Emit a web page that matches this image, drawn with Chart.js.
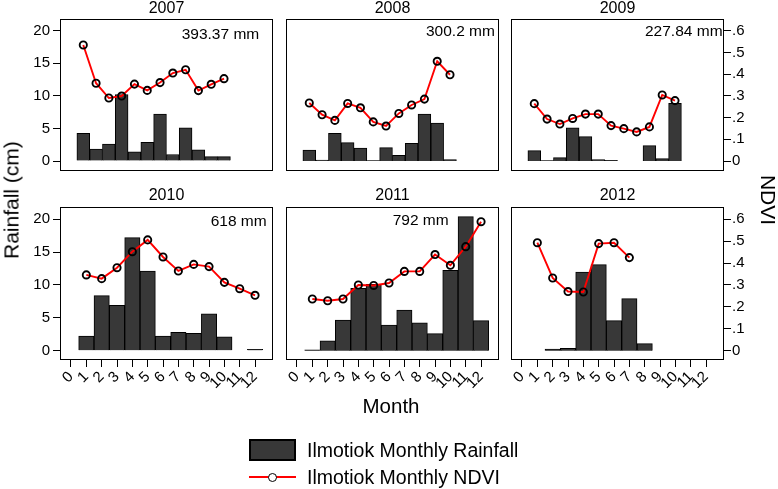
<!DOCTYPE html>
<html>
<head>
<meta charset="utf-8">
<script src="https://cdn.jsdelivr.net/npm/chart.js@4.4.1/dist/chart.umd.min.js"></script>
<style>
html,body{margin:0;padding:0;background:#fff;}
#wrap{position:relative;width:778px;height:489px;overflow:hidden;font-family:"Liberation Sans",Arial,Helvetica,sans-serif;color:#000;}
#wrap canvas{position:absolute;left:0;top:0;}
.t{position:absolute;white-space:nowrap;}
</style>
</head>
<body>
<div id="wrap"></div>
<script>
// ---------------- data ----------------
const years = ['2007', '2008', '2009', '2010', '2011', '2012'];
const totals = ['393.37 mm', '300.2 mm', '227.84 mm', '618 mm', '792 mm', ''];
const months = [1, 2, 3, 4, 5, 6, 7, 8, 9, 10, 11, 12];
const monthTicks = [0, 1, 2, 3, 4, 5, 6, 7, 8, 9, 10, 11, 12];
const rainTicks = [0, 5, 10, 15, 20];
const ndviTicks = [0, 0.1, 0.2, 0.3, 0.4, 0.5, 0.6];
const ndviTickLabels = ['0', '.1', '.2', '.3', '.4', '.5', '.6'];

// rainfall (cm)
const rain2007 = [4.25, 1.84, 2.6, 10.2, 1.4, 2.86, 7.2, 1.0, 5.1, 1.7, 0.66, 0.66];
const rain2008 = [1.69, 0.15, 4.25, 2.81, 2.0, 0.05, 2.05, 0.87, 2.71, 7.21, 5.83, 0.2];
const rain2009 = [1.59, 0.05, 0.51, 5.1, 3.73, 0.2, 0.1, null, null, 2.35, 0.36, 8.85];
const rain2010 = [2.23, 8.38, 6.9, 17.2, 12.13, 2.23, 2.79, 2.64, 5.63, 2.13, null, 0.2];
const rain2011 = [0.15, 1.52, 4.67, 9.49, 10.1, 3.91, 6.19, 4.26, 2.59, 12.23, 20.4, 4.57];
const rain2012 = [null, 0.25, 0.36, 11.98, 13.1, 4.57, 7.92, 1.07, null, null, null, null];

// NDVI
const ndvi2007 = [0.534, 0.358, 0.290, 0.299, 0.354, 0.325, 0.361, 0.405, 0.420, 0.324, 0.353, 0.379];
const ndvi2008 = [0.267, 0.213, 0.187, 0.265, 0.245, 0.180, 0.161, 0.219, 0.258, 0.285, 0.459, 0.397];
const ndvi2009 = [0.264, 0.193, 0.170, 0.196, 0.216, 0.216, 0.163, 0.149, 0.134, 0.157, 0.304, 0.278];
const ndvi2010 = [0.346, 0.329, 0.379, 0.452, 0.506, 0.428, 0.364, 0.394, 0.384, 0.312, 0.283, 0.253];
const ndvi2011 = [0.236, 0.228, 0.236, 0.300, 0.298, 0.309, 0.362, 0.362, 0.439, 0.390, 0.475, 0.589];
const ndvi2012 = [0.493, 0.332, 0.270, 0.268, 0.489, 0.493, 0.425, null, null, null, null, null];

const rainSeries = [rain2007, rain2008, rain2009, rain2010, rain2011, rain2012];
const ndviSeries = [ndvi2007, ndvi2008, ndvi2009, ndvi2010, ndvi2011, ndvi2012];

// ---------------- layout (not data) ----------------
const W = 778, H = 489;
const colEdges = [[60, 273], [286, 499], [511, 724]];
const rowEdges = [[19, 171], [207, 360]];
const rowX = [[-0.82, 15.83], [-0.717, 13.17]];
const rowY = [[-1.534, 21.79], [-1.415, 21.87]];
const ndviRatio = 20 / 0.6;
const totalPos = [[181.7, 33.7], [426, 30.8], [645, 31], [210.7, 220.8], [392.7, 220], [0, 0]];
const AXW = 50, AXR = 45, AXH = 45;

Chart.defaults.font.family = '"Liberation Sans", Arial, Helvetica, sans-serif';
Chart.defaults.color = '#000';

const boxPlugin = {
  id: 'panelBox',
  afterDraw(chart) {
    const a = chart.chartArea, c = chart.ctx;
    c.save();
    c.strokeStyle = '#000';
    c.lineWidth = 1;
    c.strokeRect(a.left + 0.5, a.top + 0.5, a.right - a.left - 1, a.bottom - a.top - 1);
    c.restore();
  }
};

const wrap = document.getElementById('wrap');

function addText(txt, css) {
  const d = document.createElement('div');
  d.className = 't';
  d.textContent = txt;
  Object.assign(d.style, css);
  wrap.appendChild(d);
  return d;
}

years.forEach((yr, i) => {
  const row = Math.floor(i / 3), col = i % 3;
  const [l, r] = colEdges[col];
  const [t, b] = rowEdges[row];
  const cv = document.createElement('canvas');
  cv.width = W; cv.height = H;
  cv.style.width = W + 'px'; cv.style.height = H + 'px';
  wrap.appendChild(cv);

  const showX = row === 1, showY = col === 0, showY1 = col === 2;
  const rain = rainSeries[i], ndvi = ndviSeries[i];
  const [ymin, ymax] = rowY[row];
  const tickGrid = {display: true, drawOnChartArea: false, drawTicks: true, tickLength: 7, color: '#000', lineWidth: 1, offset: false};

  new Chart(cv.getContext('2d'), {
    type: 'bar',
    data: {
      datasets: [
        {
          type: 'line',
          label: 'Ilmotiok Monthly NDVI',
          data: months.map((m, j) => ({x: m, y: ndvi[j]})),
          yAxisID: 'y1',
          order: 0,
          borderColor: '#ff0000',
          borderWidth: 1.9,
          tension: 0,
          pointStyle: 'circle',
          pointRadius: 3.6,
          pointBorderWidth: 1.9,
          pointBorderColor: '#000',
          pointBackgroundColor: 'rgba(0,0,0,0)',
          spanGaps: false
        },
        {
          type: 'bar',
          label: 'Ilmotiok Monthly Rainfall',
          data: months.map((m, j) => ({x: m, y: rain[j]})),
          yAxisID: 'y',
          order: 1,
          backgroundColor: '#383838',
          borderColor: '#000',
          borderWidth: 1,
          barPercentage: 1,
          categoryPercentage: 1,
          grouped: false
        }
      ]
    },
    options: {
      responsive: false,
      animation: false,
      devicePixelRatio: 1,
      events: [],
      layout: {padding: {
        left: l - (showY ? AXW : 0),
        top: t,
        right: W - r - (showY1 ? AXR : 0),
        bottom: H - b - (showX ? AXH : 0)
      }},
      plugins: {legend: {display: false}, tooltip: {enabled: false}, title: {display: false}},
      scales: {
        x: {
          type: 'linear', position: 'bottom', min: rowX[row][0], max: rowX[row][1],
          display: showX, offset: false,
          grid: tickGrid, border: {display: false},
          ticks: {autoSkip: false, minRotation: 45, maxRotation: 45, font: {size: 15}, color: '#000', padding: 1},
          afterBuildTicks: s => { s.ticks = monthTicks.map(v => ({value: v})); },
          afterFit: s => { s.height = showX ? AXH : 0; }
        },
        y: {
          type: 'linear', position: 'left', min: ymin, max: ymax,
          display: showY,
          grid: tickGrid, border: {display: false},
          ticks: {font: {size: 15}, color: '#000', padding: 3},
          afterBuildTicks: s => { s.ticks = rainTicks.map(v => ({value: v})); },
          afterFit: s => { s.width = showY ? AXW : 0; }
        },
        y1: {
          type: 'linear', position: 'right', min: ymin / ndviRatio, max: ymax / ndviRatio,
          display: showY1,
          grid: tickGrid, border: {display: false},
          ticks: {font: {size: 15}, color: '#000', padding: 1, callback: (v, k) => ndviTickLabels[k]},
          afterBuildTicks: s => { s.ticks = ndviTicks.map(v => ({value: v})); },
          afterFit: s => { s.width = showY1 ? AXR : 0; }
        }
      }
    },
    plugins: [boxPlugin]
  });

  // panel title
  const titleY = row === 0 ? 7.7 : 195;
  addText(yr, {left: ((l + r) / 2) + 'px', top: (titleY - 8) + 'px', fontSize: '16px', lineHeight: '16px', transform: 'translateX(-50%)'});
  if (totals[i]) {
    const [tx, ty] = totalPos[i];
    addText(totals[i], {left: tx + 'px', top: (ty - 7.75) + 'px', fontSize: '15.5px', lineHeight: '15.5px'});
  }
});

// axis titles
addText('Rainfall (cm)', {left: '11px', top: '200px', fontSize: '21px', lineHeight: '21px', transform: 'translate(-50%,-50%) rotate(-90deg)'});
addText('NDVI', {left: '768px', top: '200px', fontSize: '21px', lineHeight: '21px', transform: 'translate(-50%,-50%) rotate(90deg)'});
addText('Month', {left: '391px', top: '395.5px', fontSize: '20.5px', lineHeight: '20.5px', transform: 'translateX(-50%)'});

// legend
const sw = document.createElement('div');
Object.assign(sw.style, {position: 'absolute', left: '249px', top: '439px', width: '47px', height: '22px', boxSizing: 'border-box', background: '#383838', border: '2px solid #000'});
wrap.appendChild(sw);
const ln = document.createElement('div');
Object.assign(ln.style, {position: 'absolute', left: '249px', top: '476px', width: '47px', height: '2px', background: '#ff0000'});
wrap.appendChild(ln);
const cir = document.createElement('div');
Object.assign(cir.style, {position: 'absolute', left: '268px', top: '472.5px', width: '9px', height: '9px', boxSizing: 'border-box', border: '1.8px solid #000', borderRadius: '50%', background: '#fff'});
wrap.appendChild(cir);
addText('Ilmotiok Monthly Rainfall', {left: '307px', top: '440.5px', fontSize: '19.5px', lineHeight: '19.5px'});
addText('Ilmotiok Monthly NDVI', {left: '307px', top: '467.5px', fontSize: '19.5px', lineHeight: '19.5px'});
</script>
</body>
</html>
